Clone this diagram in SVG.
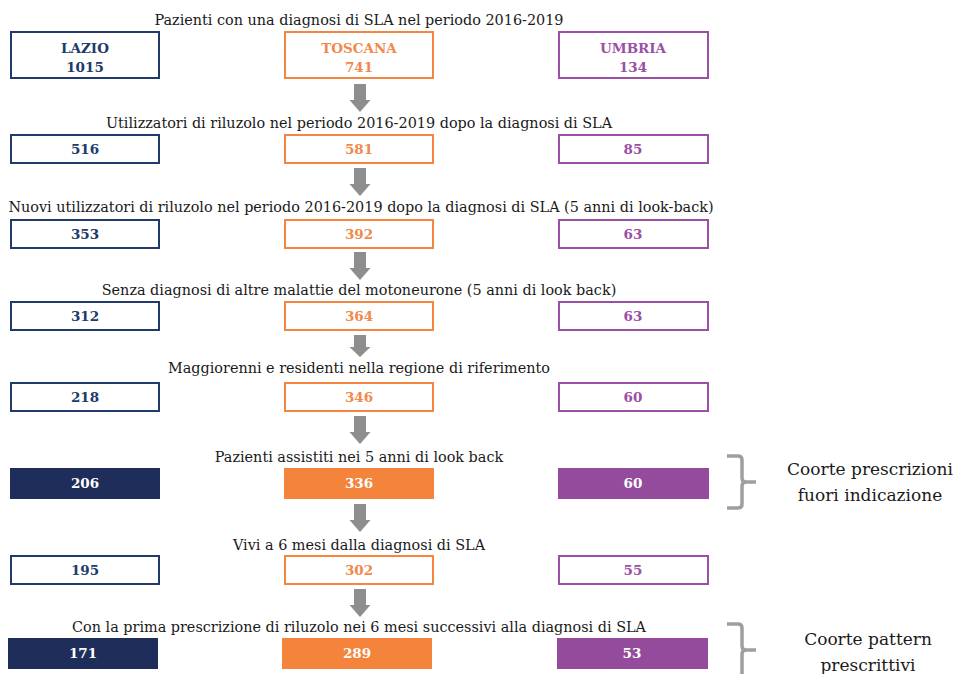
<svg xmlns="http://www.w3.org/2000/svg" width="961" height="674" viewBox="0 0 961 674">
<style>
.t{font-family:"DejaVu Serif","Liberation Serif",serif;font-size:14.4px;fill:#1a1a1a;text-anchor:middle}
.n{font-family:"DejaVu Serif","Liberation Serif",serif;font-size:13.5px;font-weight:bold;text-anchor:middle}
.c{font-family:"DejaVu Serif","Liberation Serif",serif;font-size:17px;fill:#1a1a1a;text-anchor:middle}
.la{fill:#fff;stroke:#213a6c;stroke-width:2}
.to{fill:#fff;stroke:#f4863f;stroke-width:2}
.um{fill:#fff;stroke:#9a50a4;stroke-width:2}
.laf{fill:#1e2d59}
.tof{fill:#f4843c}
.umf{fill:#954b9c}
.lat{fill:#213a6c}.tot{fill:#f08a4b}.umt{fill:#9a50a4}.w{fill:#fff}
.ar{fill:#8e8e8e}
.br{fill:none;stroke:#9e9e9e;stroke-width:3.5;stroke-linejoin:round}
</style>
<defs>
<path id="arr" class="ar" d="M-6,0 H6 V16 H10.5 L0,28 L-10.5,16 H-6 Z"/>
<path id="arrs" class="ar" d="M-6,0 H6 V12 H10.5 L0,22 L-10.5,12 H-6 Z"/>
</defs>
<g id="connectors">
<use href="#arr" x="360" y="84"/>
<use href="#arr" x="360" y="168"/>
<use href="#arr" x="360" y="252"/>
<use href="#arrs" x="360" y="335"/>
<use href="#arr" x="360" y="416"/>
<use href="#arr" x="360" y="504"/>
<use href="#arr" x="360" y="589"/>
</g>
<g id="titles">
<text class="t" x="359" y="25">Pazienti con una diagnosi di SLA nel periodo 2016-2019</text>
<text class="t" x="359" y="128">Utilizzatori di riluzolo nel periodo 2016-2019 dopo la diagnosi di SLA</text>
<text class="t" x="361" y="212">Nuovi utilizzatori di riluzolo nel periodo 2016-2019 dopo la diagnosi di SLA (5 anni di look-back)</text>
<text class="t" x="359" y="295">Senza diagnosi di altre malattie del motoneurone (5 anni di look back)</text>
<text class="t" x="359" y="373">Maggiorenni e residenti nella regione di riferimento</text>
<text class="t" x="359" y="462">Pazienti assistiti nei 5 anni di look back</text>
<text class="t" x="359" y="550">Vivi a 6 mesi dalla diagnosi di SLA</text>
<text class="t" x="359" y="632">Con la prima prescrizione di riluzolo nei 6 mesi successivi alla diagnosi di SLA</text>
</g>
<g id="row1">
<g id="lazio1"><rect class="la" x="11" y="32" width="148" height="46"/><text class="n lat" x="85" y="53">LAZIO</text><text class="n lat" x="85" y="72">1015</text></g>
<g id="toscana1"><rect class="to" x="285" y="32" width="148" height="46"/><text class="n tot" x="359" y="53">TOSCANA</text><text class="n tot" x="359" y="72">741</text></g>
<g id="umbria1"><rect class="um" x="559" y="32" width="149" height="46"/><text class="n umt" x="633" y="53">UMBRIA</text><text class="n umt" x="633" y="72">134</text></g>
</g>
<g id="row2">
<g id="lazio2"><rect class="la" x="11" y="135" width="148" height="28"/><text class="n lat" x="85" y="154">516</text></g>
<g id="toscana2"><rect class="to" x="285" y="135" width="148" height="28"/><text class="n tot" x="359" y="154">581</text></g>
<g id="umbria2"><rect class="um" x="559" y="135" width="149" height="28"/><text class="n umt" x="633" y="154">85</text></g>
</g>
<g id="row3">
<g id="lazio3"><rect class="la" x="11" y="220" width="148" height="28"/><text class="n lat" x="85" y="239">353</text></g>
<g id="toscana3"><rect class="to" x="285" y="220" width="148" height="28"/><text class="n tot" x="359" y="239">392</text></g>
<g id="umbria3"><rect class="um" x="559" y="220" width="149" height="28"/><text class="n umt" x="633" y="239">63</text></g>
</g>
<g id="row4">
<g id="lazio4"><rect class="la" x="11" y="302" width="148" height="28"/><text class="n lat" x="85" y="321">312</text></g>
<g id="toscana4"><rect class="to" x="285" y="302" width="148" height="28"/><text class="n tot" x="359" y="321">364</text></g>
<g id="umbria4"><rect class="um" x="559" y="302" width="149" height="28"/><text class="n umt" x="633" y="321">63</text></g>
</g>
<g id="row5">
<g id="lazio5"><rect class="la" x="11" y="383" width="148" height="28"/><text class="n lat" x="85" y="402">218</text></g>
<g id="toscana5"><rect class="to" x="285" y="383" width="148" height="28"/><text class="n tot" x="359" y="402">346</text></g>
<g id="umbria5"><rect class="um" x="559" y="383" width="149" height="28"/><text class="n umt" x="633" y="402">60</text></g>
</g>
<g id="row6">
<g id="lazio6"><rect class="laf" x="10" y="468" width="150" height="31"/><text class="n w" x="85" y="488">206</text></g>
<g id="toscana6"><rect class="tof" x="284" y="468" width="150" height="31"/><text class="n w" x="359" y="488">336</text></g>
<g id="umbria6"><rect class="umf" x="558" y="468" width="151" height="31"/><text class="n w" x="633" y="488">60</text></g>
</g>
<g id="row7">
<g id="lazio7"><rect class="la" x="11" y="556" width="148" height="28"/><text class="n lat" x="85" y="575">195</text></g>
<g id="toscana7"><rect class="to" x="285" y="556" width="148" height="28"/><text class="n tot" x="359" y="575">302</text></g>
<g id="umbria7"><rect class="um" x="559" y="556" width="149" height="28"/><text class="n umt" x="633" y="575">55</text></g>
</g>
<g id="row8">
<g id="lazio8"><rect class="laf" x="8" y="638" width="150" height="31"/><text class="n w" x="83" y="658">171</text></g>
<g id="toscana8"><rect class="tof" x="282" y="638" width="150" height="31"/><text class="n w" x="357" y="658">289</text></g>
<g id="umbria8"><rect class="umf" x="557" y="638" width="151" height="31"/><text class="n w" x="632" y="658">53</text></g>
</g>
<g id="cohort1">
<path class="br" d="M727,456 H738 Q742,456 742,460 V478 Q742,482 746,482 H756 M746,482 Q742,482 742,486 V504 Q742,508 738,508 H727"/>
<text class="c" x="870" y="475">Coorte prescrizioni</text>
<text class="c" x="870" y="501">fuori indicazione</text>
</g>
<g id="cohort2">
<path class="br" d="M727,624 H738 Q742,624 742,628 V646 Q742,650 746,650 H756 M746,650 Q742,650 742,654 V680"/>
<text class="c" x="868" y="645">Coorte pattern</text>
<text class="c" x="868" y="671">prescrittivi</text>
</g>
</svg>
